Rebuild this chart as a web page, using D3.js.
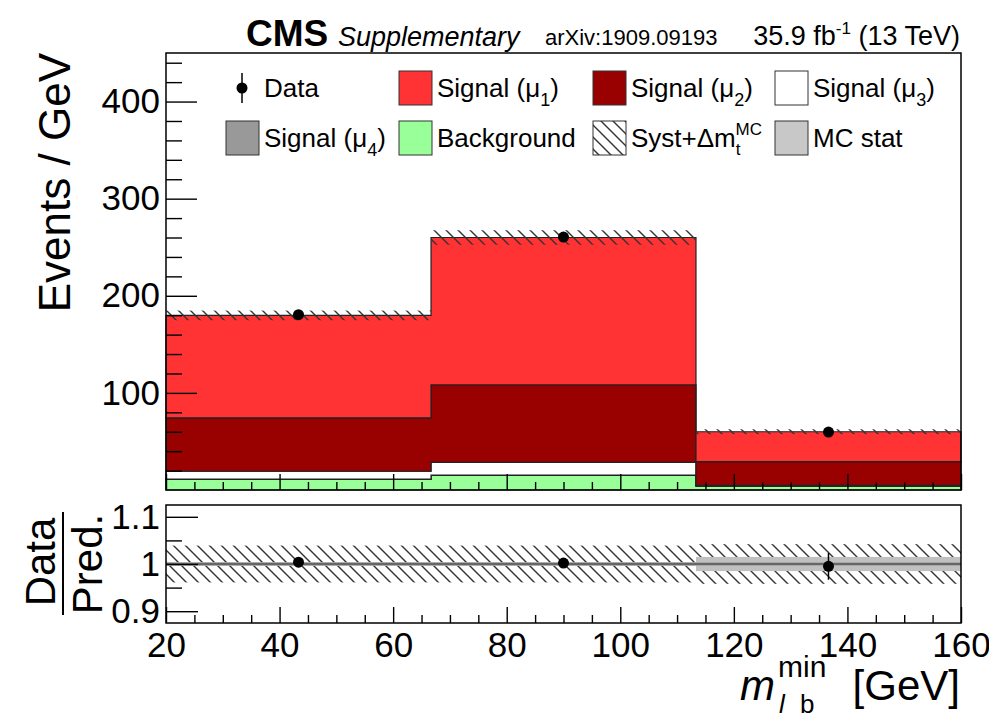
<!DOCTYPE html>
<html>
<head>
<meta charset="utf-8">
<script src="https://cdn.jsdelivr.net/npm/d3@7/dist/d3.min.js"></script>
<style>
	body { margin: 0; background: #fff; }
	svg { display: block; font-family: "Liberation Sans", Arial, Helvetica, sans-serif; }
	.axis path.domain { display: none; }
	.axis line { stroke: #000; stroke-width: 1.4; }
	.axis text { fill: #000; }
</style>
</head>
<body>
<svg id="chart" width="989" height="721"></svg>
<script>
(function(){

	// bins of m_lb^min [GeV]
	var binEdges = [20, 66.67, 113.33, 160];

	// events / GeV per bin
	var dataVals = [180.5, 260.5, 59.7];
	var dataErr = [1.9, 2.4, 1.7];
	var bkgVals = [11, 15, 4];
	var mu4Vals = [0.3, 0.4, 0.2];
	var mu3Vals = [8, 13, 0.5];
	var mu2Vals = [55, 80, 24.5];
	var mu1Vals = [105.5, 151.6, 30.8];
	var systMain = [5, 7.5, 2.5];

	// ratio panel uncertainties (relative)
	var systRatio = [0.039, 0.039, 0.042];
	var mcStatRatio = [0.004, 0.004, 0.015];

	var xTicks = [20, 40, 60, 80, 100, 120, 140, 160];
	var yTicks = [100, 200, 300, 400];
	var ratioTicks = [0.9, 1, 1.1];

	var keys = ["bkg", "mu4", "mu3", "mu2", "mu1"];
	var colors = {bkg: "#99ff99", mu4: "#999999", mu3: "#ffffff", mu2: "#990000", mu1: "#ff3333"};

	var main = {left: 166, right: 961, top: 53, bottom: 490};
	var rat = {top: 505, bottom: 623};

	var svg = d3.select("#chart");

	var defs = svg.append("defs");
	defs.append("pattern")
		.attr("id", "hatch")
		.attr("patternUnits", "userSpaceOnUse")
		.attr("width", 12)
		.attr("height", 12)
		.append("path")
			.attr("d", "M-3,9 L3,15 M0,0 L12,12 M9,-3 L15,3")
			.attr("stroke", "#333")
			.attr("stroke-width", 1.4);

	var x = d3.scaleLinear().domain([20, 160]).range([main.left, main.right]);
	var y = d3.scaleLinear().domain([0, 450]).range([main.bottom, main.top]);
	var yr = d3.scaleLinear().domain([0.875, 1.125]).range([rat.bottom, rat.top]);

	// table for the stack
	var rows = [];
	for(var i = 0; i < dataVals.length; i++){
		rows.push({lo: binEdges[i], hi: binEdges[i+1], bkg: bkgVals[i], mu4: mu4Vals[i], mu3: mu3Vals[i], mu2: mu2Vals[i], mu1: mu1Vals[i]});
	}
	var stacked = d3.stack().keys(keys)(rows);
	var totals = rows.map(function(r){ return d3.sum(keys, function(k){ return r[k]; }); });

	// ---- main panel ----
	var gMain = svg.append("g");

	var area = d3.area()
		.curve(d3.curveStepAfter)
		.x(function(d){ return x(d.x); })
		.y0(function(d){ return y(d.y0); })
		.y1(function(d){ return y(d.y1); });

	stacked.forEach(function(layer){
		var pts = layer.map(function(d, i){ return {x: binEdges[i], y0: d[0], y1: d[1]}; });
		var last = pts[pts.length - 1];
		pts.push({x: binEdges[binEdges.length - 1], y0: last.y0, y1: last.y1});
		gMain.append("path")
			.datum(pts)
			.attr("d", area)
			.attr("fill", colors[layer.key])
			.attr("stroke", "#222")
			.attr("stroke-width", 1.2);
	});

	// syst band on top of stack
	gMain.selectAll(".syst")
		.data(rows)
		.enter().append("rect")
			.attr("class", "syst")
			.attr("x", function(d){ return x(d.lo); })
			.attr("width", function(d){ return x(d.hi) - x(d.lo); })
			.attr("y", function(d, i){ return y(totals[i] + systMain[i]); })
			.attr("height", function(d, i){ return y(totals[i] - systMain[i]) - y(totals[i] + systMain[i]); })
			.attr("fill", "url(#hatch)");

	// axes main
	var minorY = d3.range(0, 451, 20).filter(function(v){ return v % 100 !== 0; });
	var minorX = d3.range(20, 161, 5).filter(function(v){ return v % 20 !== 0; });

	svg.append("g")
		.attr("class", "axis")
		.attr("transform", "translate(" + main.left + ",0)")
		.style("font-size", "35px")
		.call(d3.axisLeft(y).tickValues(yTicks).tickSizeInner(-31).tickSizeOuter(0).tickPadding(6));
	svg.append("g")
		.attr("class", "axis")
		.attr("transform", "translate(" + main.left + ",0)")
		.call(d3.axisLeft(y).tickValues(minorY).tickSizeInner(-16).tickSizeOuter(0).tickFormat(""));
	svg.append("g")
		.attr("class", "axis")
		.attr("transform", "translate(0," + main.bottom + ")")
		.call(d3.axisBottom(x).tickValues(xTicks).tickSizeInner(-16).tickSizeOuter(0).tickFormat(""));
	svg.append("g")
		.attr("class", "axis")
		.attr("transform", "translate(0," + main.bottom + ")")
		.call(d3.axisBottom(x).tickValues(minorX).tickSizeInner(-8).tickSizeOuter(0).tickFormat(""));

	// data points
	var centers = rows.map(function(r){ return (r.lo + r.hi) / 2; });
	gMain.selectAll(".derr")
		.data(dataVals)
		.enter().append("line")
			.attr("x1", function(d, i){ return x(centers[i]); })
			.attr("x2", function(d, i){ return x(centers[i]); })
			.attr("y1", function(d, i){ return y(d - dataErr[i]); })
			.attr("y2", function(d, i){ return y(d + dataErr[i]); })
			.attr("stroke", "#000")
			.attr("stroke-width", 1.5);
	svg.selectAll(".dpt")
		.data(dataVals)
		.enter().append("circle")
			.attr("cx", function(d, i){ return x(centers[i]); })
			.attr("cy", function(d){ return y(d); })
			.attr("r", 5.5)
			.attr("fill", "#000");

	svg.append("rect")
		.attr("x", main.left).attr("y", main.top)
		.attr("width", main.right - main.left).attr("height", main.bottom - main.top)
		.attr("fill", "none").attr("stroke", "#000").attr("stroke-width", 1.5);

	// legend
	var legendItems = [
		{type: "data", label: "Data", col: 0, row: 0},
		{type: "box", fill: colors.mu1, label: ["Signal (\u03bc", "1", ")"], col: 1, row: 0},
		{type: "box", fill: colors.mu2, label: ["Signal (\u03bc", "2", ")"], col: 2, row: 0},
		{type: "box", fill: colors.mu3, label: ["Signal (\u03bc", "3", ")"], col: 3, row: 0},
		{type: "box", fill: colors.mu4, label: ["Signal (\u03bc", "4", ")"], col: 0, row: 1},
		{type: "box", fill: colors.bkg, label: "Background", col: 1, row: 1},
		{type: "box", fill: "url(#hatch)", label: "syst", col: 2, row: 1},
		{type: "box", fill: "#c8c8c8", label: "MC stat", col: 3, row: 1}
	];
	var colX = [226, 399, 593, 775];
	var rowY = [71, 121];

	var legend = svg.append("g").style("font-size", "26px");
	legendItems.forEach(function(it){
		var bx = colX[it.col], by = rowY[it.row];
		var g = legend.append("g");
		if(it.type === "data"){
			g.append("line").attr("x1", bx + 16).attr("x2", bx + 16).attr("y1", by + 2).attr("y2", by + 32)
				.attr("stroke", "#000").attr("stroke-width", 1.5);
			g.append("circle").attr("cx", bx + 16).attr("cy", by + 17).attr("r", 5.5).attr("fill", "#000");
		}
		else{
			g.append("rect").attr("x", bx).attr("y", by).attr("width", 33).attr("height", 34)
				.attr("fill", it.fill).attr("stroke", "#333").attr("stroke-width", 1);
		}
		var t = g.append("text").attr("x", bx + 38).attr("y", by + 26);
		if(Array.isArray(it.label)){
			t.append("tspan").text(it.label[0]);
			t.append("tspan").attr("dy", 9).style("font-size", "18px").text(it.label[1]);
			t.append("tspan").attr("dy", -9).text(it.label[2]);
		}
		else if(it.label === "syst"){
			t.append("tspan").text("Syst+\u0394m");
			t.append("tspan").attr("dy", 8).style("font-size", "17px").text("t");
			t.append("tspan").attr("dx", -5).attr("dy", -20).style("font-size", "17px").text("MC");
		}
		else{
			t.text(it.label);
		}
	});

	// ---- ratio panel ----
	var gRat = svg.append("g");
	gRat.selectAll(".rsyst")
		.data(rows)
		.enter().append("rect")
			.attr("x", function(d){ return x(d.lo); })
			.attr("width", function(d){ return x(d.hi) - x(d.lo); })
			.attr("y", function(d, i){ return yr(1 + systRatio[i]); })
			.attr("height", function(d, i){ return yr(1 - systRatio[i]) - yr(1 + systRatio[i]); })
			.attr("fill", "url(#hatch)");
	gRat.selectAll(".rstat")
		.data(rows)
		.enter().append("rect")
			.attr("x", function(d){ return x(d.lo); })
			.attr("width", function(d){ return x(d.hi) - x(d.lo); })
			.attr("y", function(d, i){ return yr(1 + mcStatRatio[i]); })
			.attr("height", function(d, i){ return yr(1 - mcStatRatio[i]) - yr(1 + mcStatRatio[i]); })
			.attr("fill", "#c0c0c0");
	gRat.append("line")
		.attr("x1", x(20)).attr("x2", x(160)).attr("y1", yr(1)).attr("y2", yr(1))
		.attr("stroke", "#666").attr("stroke-width", 2.5);

	svg.append("g")
		.attr("class", "axis")
		.attr("transform", "translate(" + main.left + ",0)")
		.style("font-size", "35px")
		.call(d3.axisLeft(yr).tickValues(ratioTicks).tickSizeInner(-32).tickSizeOuter(0).tickPadding(6)
			.tickFormat(function(d){ return d === 1 ? "1" : d3.format(".1f")(d); }));
	svg.append("g")
		.attr("class", "axis")
		.attr("transform", "translate(" + main.left + ",0)")
		.call(d3.axisLeft(yr).tickValues([0.95, 1.05]).tickSizeInner(-16).tickSizeOuter(0).tickFormat(""));
	svg.append("g")
		.attr("class", "axis")
		.attr("transform", "translate(0," + rat.bottom + ")")
		.style("font-size", "35px")
		.call(d3.axisBottom(x).tickValues(xTicks).tickSizeInner(-16).tickSizeOuter(0).tickPadding(9));
	svg.append("g")
		.attr("class", "axis")
		.attr("transform", "translate(0," + rat.bottom + ")")
		.call(d3.axisBottom(x).tickValues(minorX).tickSizeInner(-8).tickSizeOuter(0).tickFormat(""));

	var ratios = dataVals.map(function(d, i){ return d / totals[i]; });
	var ratioErr = dataErr.map(function(e, i){ return e / totals[i]; });
	gRat.selectAll(".rerr")
		.data(ratios)
		.enter().append("line")
			.attr("x1", function(d, i){ return x(centers[i]); })
			.attr("x2", function(d, i){ return x(centers[i]); })
			.attr("y1", function(d, i){ return yr(d - ratioErr[i]); })
			.attr("y2", function(d, i){ return yr(d + ratioErr[i]); })
			.attr("stroke", "#000")
			.attr("stroke-width", 1.5);
	gRat.selectAll(".rpt")
		.data(ratios)
		.enter().append("circle")
			.attr("cx", function(d, i){ return x(centers[i]); })
			.attr("cy", function(d){ return yr(d); })
			.attr("r", 5.5)
			.attr("fill", "#000");

	svg.append("rect")
		.attr("x", main.left).attr("y", rat.top)
		.attr("width", main.right - main.left).attr("height", rat.bottom - rat.top)
		.attr("fill", "none").attr("stroke", "#000").attr("stroke-width", 1.5);

	// ---- titles ----
	svg.append("text")
		.attr("transform", "translate(70," + main.top + ") rotate(-90)")
		.attr("text-anchor", "end")
		.style("font-size", "44px")
		.text("Events / GeV");

	svg.append("text")
		.attr("transform", "translate(55,562) rotate(-90)")
		.attr("text-anchor", "middle")
		.style("font-size", "42px")
		.text("Data");
	svg.append("line")
		.attr("x1", 63).attr("x2", 63).attr("y1", 512).attr("y2", 615)
		.attr("stroke", "#000").attr("stroke-width", 2);
	svg.append("text")
		.attr("transform", "translate(102,564) rotate(-90)")
		.attr("text-anchor", "middle")
		.style("font-size", "42px")
		.text("Pred.");

	var xl = svg.append("g");
	xl.append("text").attr("x", 740).attr("y", 700).style("font-size", "42px").style("font-style", "italic").text("m");
	xl.append("text").attr("x", 778).attr("y", 677).style("font-size", "30px").text("min");
	xl.append("text").attr("x", 779).attr("y", 713).style("font-size", "26px").style("font-style", "italic").text("l");
	xl.append("text").attr("x", 800).attr("y", 713).style("font-size", "26px").text("b");
	xl.append("text").attr("x", 960).attr("y", 700).attr("text-anchor", "end").style("font-size", "42px").text("[GeV]");

	svg.append("text").attr("x", 246).attr("y", 46).style("font-size", "37px").style("font-weight", "bold").text("CMS");
	svg.append("text").attr("x", 338).attr("y", 46).style("font-size", "27px").style("font-style", "italic").text("Supplementary");
	svg.append("text").attr("x", 545).attr("y", 45).style("font-size", "22px").text("arXiv:1909.09193");
	var lumi = svg.append("text").attr("x", 960).attr("y", 45).attr("text-anchor", "end").style("font-size", "27px");
	lumi.append("tspan").text("35.9 fb");
	lumi.append("tspan").attr("dy", -11).style("font-size", "17px").text("-1");
	lumi.append("tspan").attr("dy", 11).text(" (13 TeV)");

})();
</script>
</body>
</html>
